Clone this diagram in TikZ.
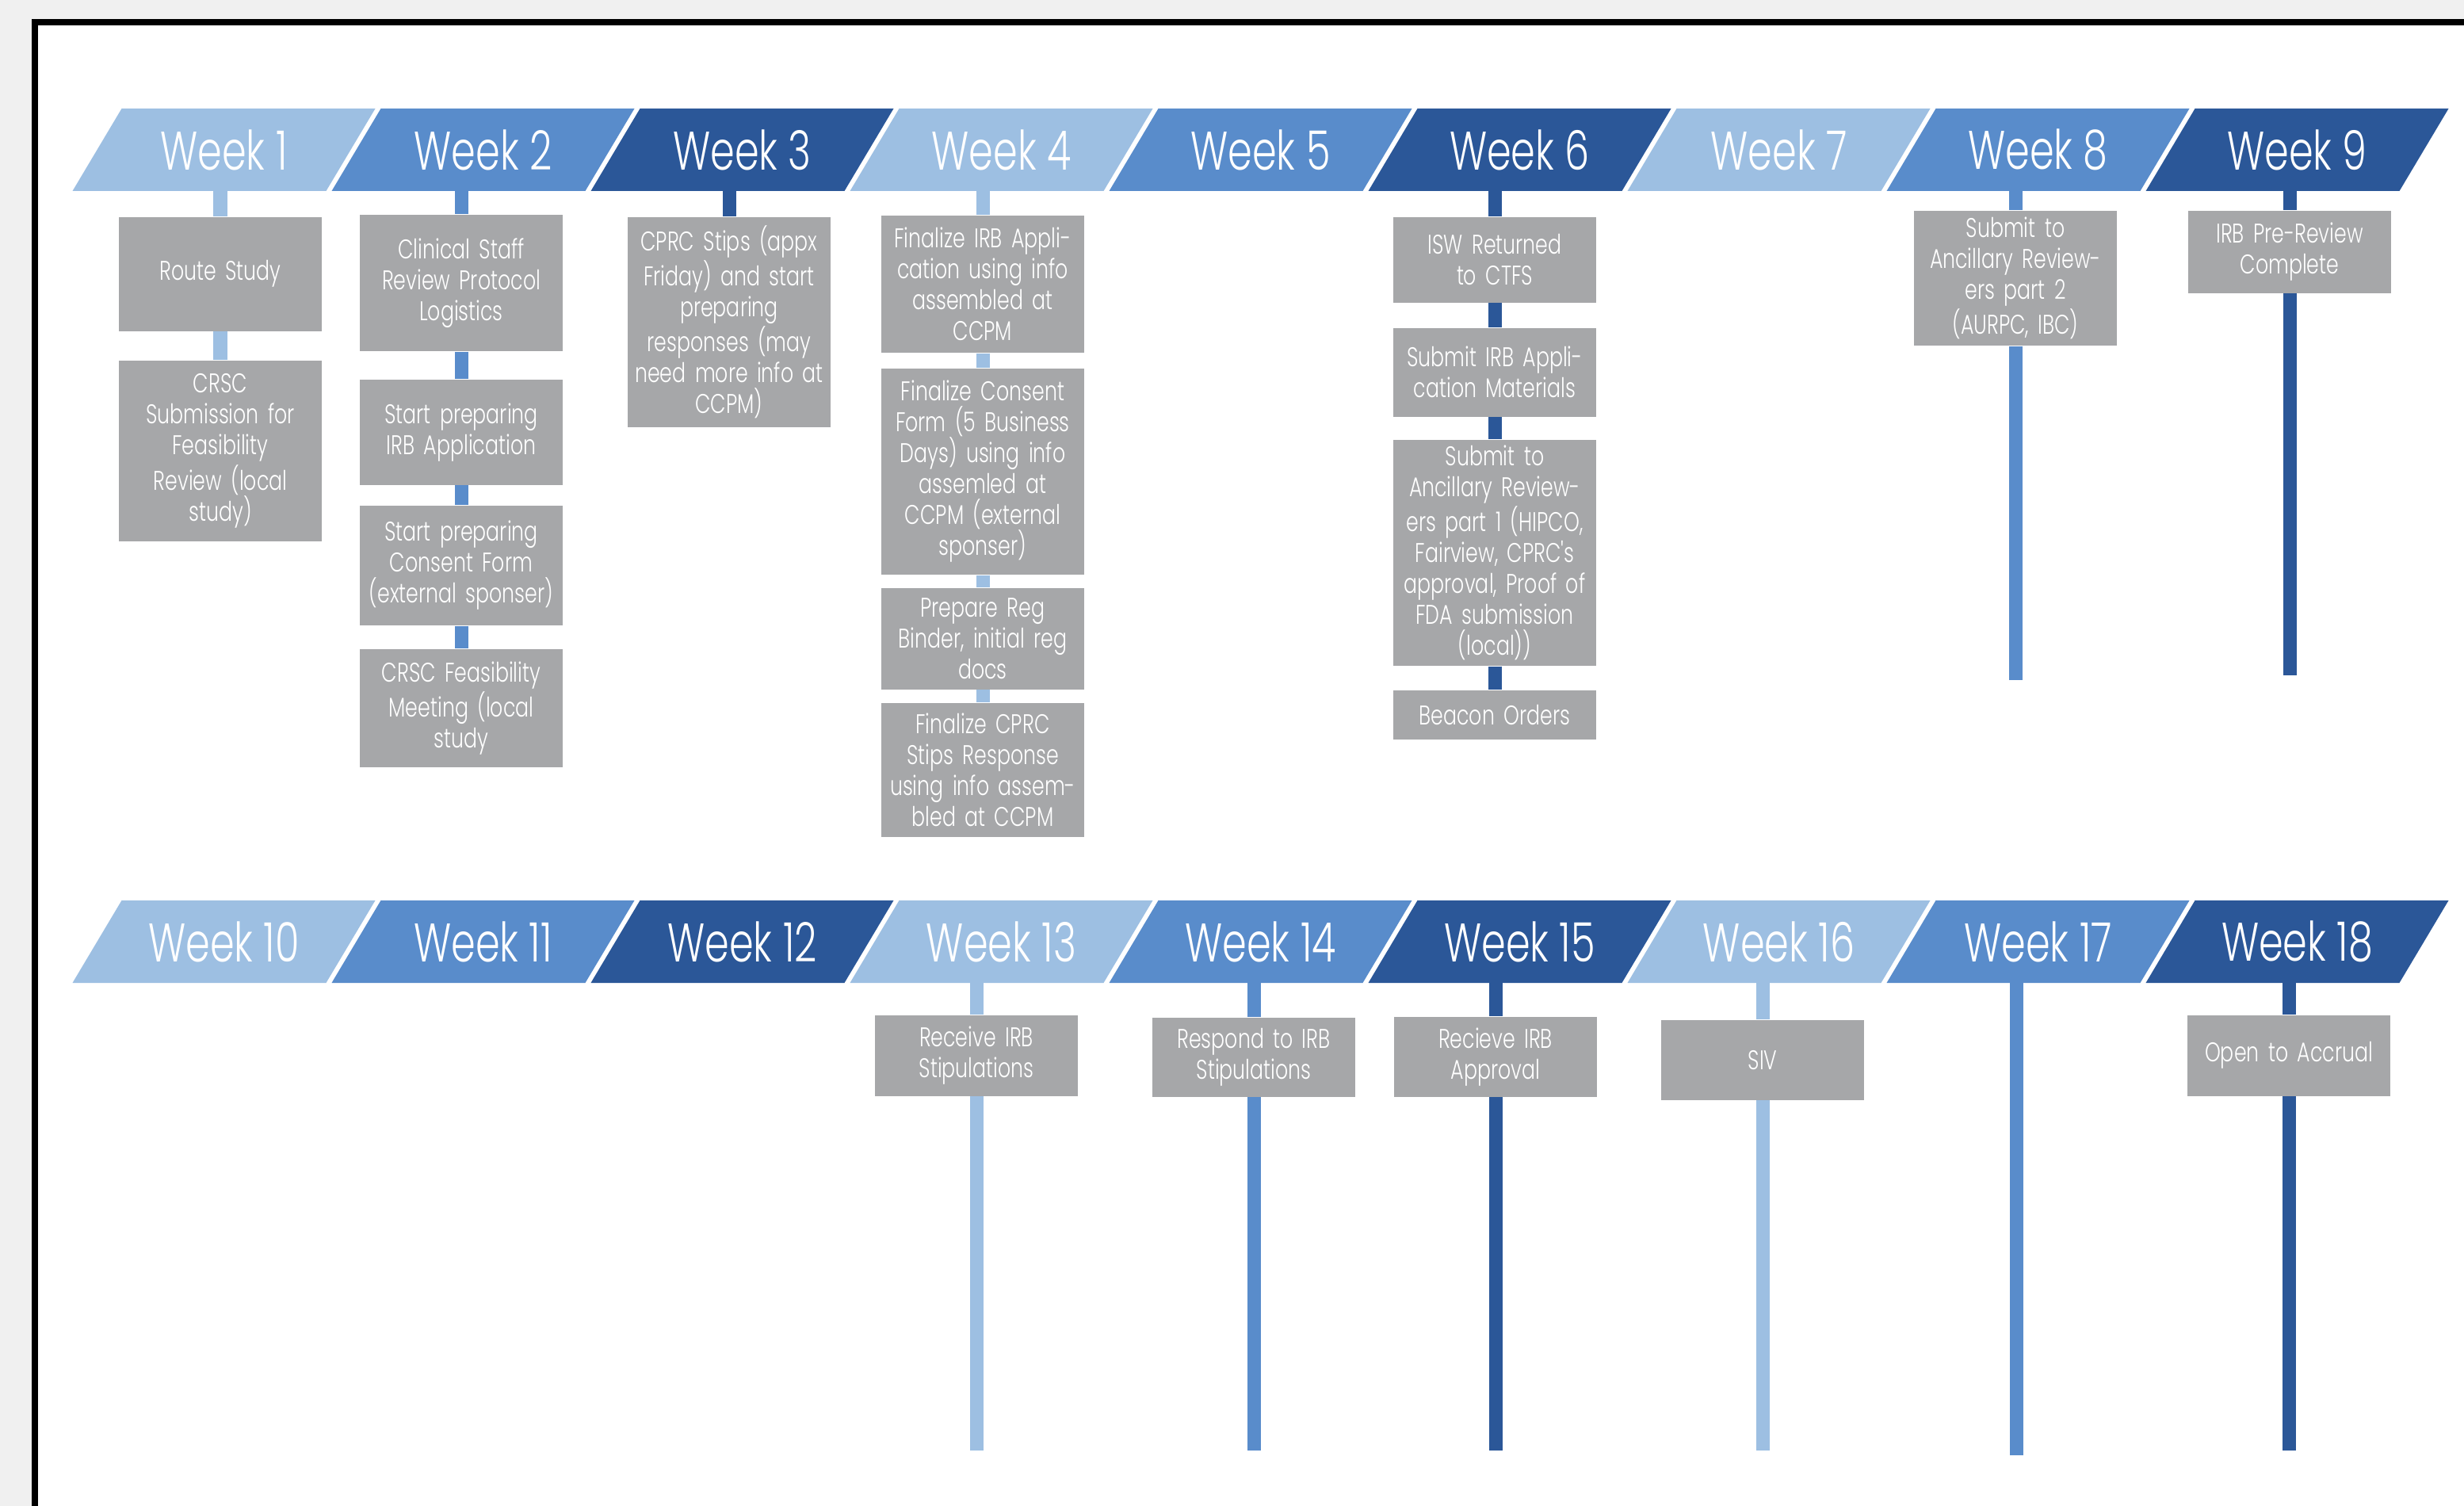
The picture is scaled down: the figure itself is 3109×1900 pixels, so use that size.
\documentclass[tikz,border=0pt]{standalone}
\usepackage{fontspec}
\setmainfont{Poppins Light}[FakeStretch=0.72]
\newfontfamily\boxfont{Poppins Light}[FakeStretch=0.74, WordSpace=0.8]
\usetikzlibrary{positioning}
\definecolor{wklight}{RGB}{157,191,226}
\definecolor{wkmid}{RGB}{89,140,203}
\definecolor{wkdark}{RGB}{43,87,152}
\definecolor{boxgray}{RGB}{166,167,169}
\definecolor{pagegray}{RGB}{240,240,240}
\tikzstyle{wk} = [text=white, font=\fontsize{19.5}{22}\selectfont, inner sep=0pt]
\tikzstyle{task} = [rectangle, fill=boxgray, text=white, anchor=north,
minimum width=2.55cm, text width=2.5cm, inner xsep=0.25mm, inner ysep=1pt,
align=center, font=\boxfont\fontsize{9.7}{11.1}\selectfont]
\tikzstyle{pole} = [line width=0.17cm, draw=#1]
\newcommand{\week}[4]{ %
  % one slanted band: place in row, top y, colour, week number
  \pgfmathsetmacro{\wxl}{150+327*(#1-1)+3.5}
  \pgfmathsetmacro{\wxr}{150+327*#1-3.5}
  \fill[fill=#3] (\wxl,#2) -- (\wxr,#2) -- (\wxr-62,#2+104) -- (\wxl-62,#2+104) -- cycle;
  \node[wk] (w#4) at ({(\wxl+\wxr)/2-31},#2+52) {Week #4};
}
\newcommand{\chain}[2]{ %
  % join each pair in #2 with a pole of colour #1
  \foreach \a/\b in {#2} { %
    \draw[pole=#1] (\a) -- (\b) ;%
  } ;
}

\begin{document}
\begin{tikzpicture}[x=0.01cm, y=-0.01cm]
    \useasboundingbox (0,0) rectangle (3109,1900);
    \clip (0,0) rectangle (3109,1900);
    % page and frame
    \fill[pagegray] (0,0) rectangle (3109,1900);
    \fill[white] (44,28) rectangle (3140,1940);
    \draw[line width=0.08cm] (44,1940) -- (44,28) -- (3140,28);

    % week bands
    \foreach \k/\col in {1/wklight,2/wkmid,3/wkdark,4/wklight,5/wkmid,6/wkdark,7/wklight,8/wkmid,9/wkdark}
      {\week{\k}{137}{\col}{\k}}
    \foreach \k/\n/\col in {1/10/wklight,2/11/wkmid,3/12/wkdark,4/13/wklight,5/14/wkmid,6/15/wkdark,7/16/wklight,8/17/wkmid,9/18/wkdark}
      {\week{\k}{1136}{\col}{\n}}

    % where the poles leave the bands, and where they stop
    \coordinate (s1) at (278,241);
    \coordinate (s2) at (582,241);
    \coordinate (s3) at (920,241);
    \coordinate (s4) at (1240,241);
    \coordinate (s6) at (1886,241);
    \coordinate (s8) at (2543,241);
    \coordinate (s9) at (2889,241);
    \coordinate (e8) at (2543,858);
    \coordinate (e9) at (2889,852);
    \coordinate (s13) at (1232,1240);
    \coordinate (s14) at (1582,1240);
    \coordinate (s15) at (1887,1240);
    \coordinate (s16) at (2224,1240);
    \coordinate (s17) at (2544,1240);
    \coordinate (s18) at (2888,1240);
    \coordinate (e13) at (1232,1830);
    \coordinate (e14) at (1582,1830);
    \coordinate (e15) at (1887,1830);
    \coordinate (e16) at (2224,1830);
    \coordinate (e17) at (2544,1836);
    \coordinate (e18) at (2888,1830);

    % weeks 1-9
    \node[task, minimum height=1.44cm] (t1a) at (278,273) {Route Study};
    \node[task, minimum height=2.28cm] (t1b) at (278,454) {CRSC\\Submission for\\Feasibility\\Review (local\\study)};
    \node[task, minimum height=1.72cm] (t2a) at (582,270) {Clinical Staff\\Review Protocol\\Logistics};
    \node[task, minimum height=1.33cm] (t2b) at (582,478) {Start preparing\\IRB Application};
    \node[task, minimum height=1.51cm] (t2c) at (582,637) {Start preparing\\Consent Form\\(external sponser)};
    \node[task, minimum height=1.49cm] (t2d) at (582,818) {CRSC Feasibility\\Meeting (local\\study};
    \node[task, minimum height=2.65cm] (t3a) at (920,273) {CPRC Stips (appx\\Friday) and start\\preparing\\responses (may\\need more info at\\CCPM)};
    \node[task, minimum height=1.73cm] (t4a) at (1240,271) {Finalize IRB Appli-\\cation using info\\assembled at\\CCPM};
    \node[task, minimum height=2.60cm] (t4b) at (1240,464) {Finalize Consent\\Form (5 Business\\Days) using info\\assemled at\\CCPM (external\\sponser)};
    \node[task, minimum height=1.28cm] (t4c) at (1240,741) {Prepare Reg\\Binder, initial reg\\docs};
    \node[task, minimum height=1.69cm] (t4d) at (1240,886) {Finalize CPRC\\Stips Response\\using info assem-\\bled at CCPM};
    \node[task, minimum height=1.08cm] (t6a) at (1886,273) {ISW Returned\\to CTFS};
    \node[task, minimum height=1.12cm] (t6b) at (1886,413) {Submit IRB Appli-\\cation Materials};
    \node[task, minimum height=2.85cm] (t6c) at (1886,554) {Submit to\\Ancillary Review-\\ers part 1 (HIPCO,\\Fairview, CPRC's\\approval, Proof of\\FDA submission\\(local))};
    \node[task, minimum height=0.62cm] (t6d) at (1886,870) {Beacon Orders};
    \node[task, minimum height=1.70cm] (t8a) at (2543,265) {Submit to\\Ancillary Review-\\ers part 2\\(AURPC, IBC)};
    \node[task, minimum height=1.04cm] (t9a) at (2889,265) {IRB Pre-Review\\Complete};

    % weeks 10-18
    \node[task, minimum height=1.02cm] (t13a) at (1232,1280) {Receive IRB\\Stipulations};
    \node[task, minimum height=1.00cm] (t14a) at (1582,1283) {Respond to IRB\\Stipulations};
    \node[task, minimum height=1.01cm] (t15a) at (1887,1282) {Recieve IRB\\Approval};
    \node[task, minimum height=1.01cm] (t16a) at (2224,1286) {SIV};
    \node[task, minimum height=1.02cm] (t18a) at (2888,1280) {Open to Accrual};

    \chain{wklight}{s1/t1a, t1a/t1b}
    \chain{wkmid}{s2/t2a, t2a/t2b, t2b/t2c, t2c/t2d}
    \chain{wkdark}{s3/t3a}
    \chain{wklight}{s4/t4a, t4a/t4b, t4b/t4c, t4c/t4d}
    \chain{wkdark}{s6/t6a, t6a/t6b, t6b/t6c, t6c/t6d}
    \chain{wkmid}{s8/t8a, t8a/e8}
    \chain{wkdark}{s9/t9a, t9a/e9}
    \chain{wklight}{s13/t13a, t13a/e13}
    \chain{wkmid}{s14/t14a, t14a/e14}
    \chain{wkdark}{s15/t15a, t15a/e15}
    \chain{wklight}{s16/t16a, t16a/e16}
    \chain{wkmid}{s17/e17}
    \chain{wkdark}{s18/t18a, t18a/e18}
\end{tikzpicture}
\end{document}
